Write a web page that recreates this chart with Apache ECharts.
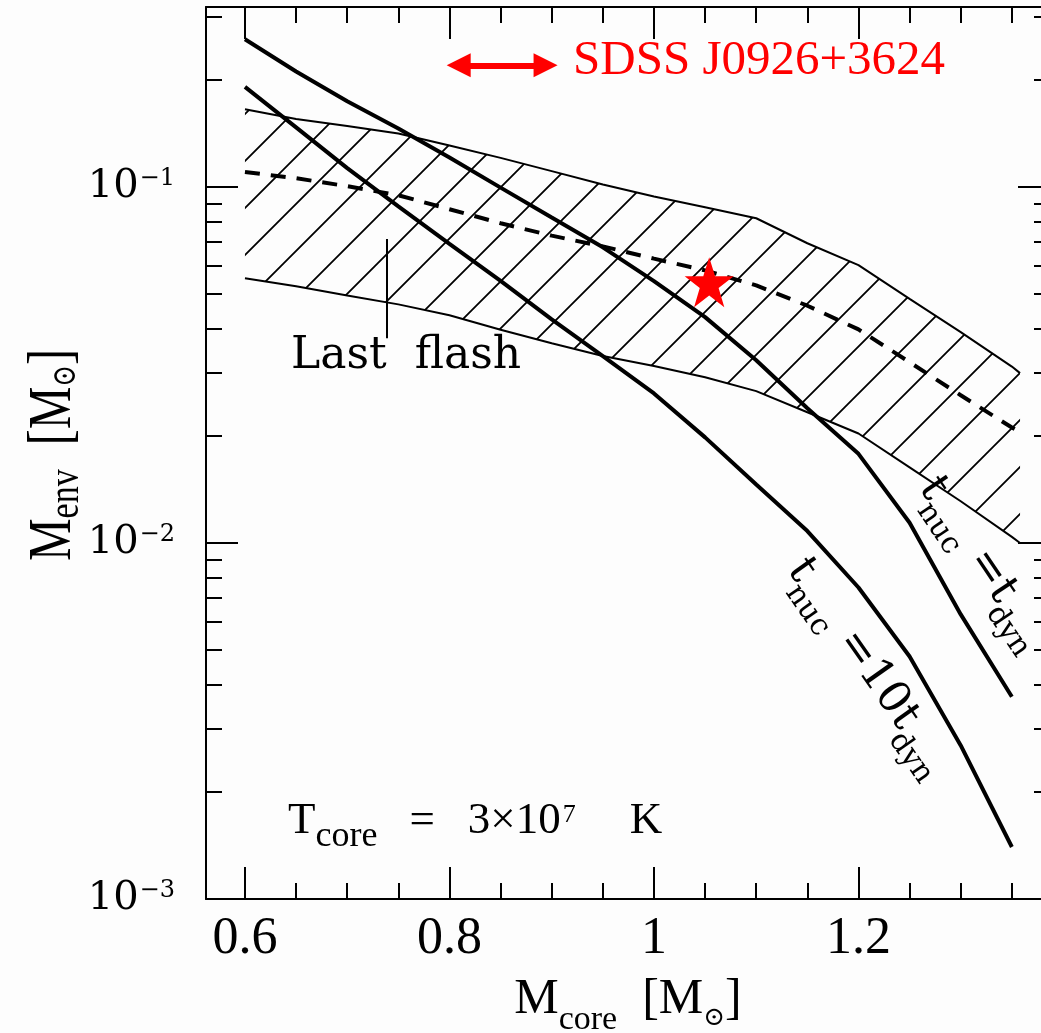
<!DOCTYPE html>
<html>
<head>
<meta charset="utf-8">
<title>Envelope mass vs core mass</title>
<script src="https://cdn.jsdelivr.net/npm/echarts@6/dist/echarts.min.js"></script>
<style>
  html, body { margin: 0; padding: 0; background: #fdfdfd; }
  #main { width: 1041px; height: 1033px; }
</style>
</head>
<body>
<div id="main"></div>
<script>
// core mass grid (Msun) for the model curves
var coreMass = [0.6, 0.65, 0.7, 0.75, 0.8, 0.85, 0.9, 0.95, 1.0, 1.05, 1.1, 1.15, 1.2, 1.25, 1.3, 1.35];
// t_nuc = t_dyn
var envDyn = [0.260, 0.211, 0.174, 0.146, 0.121, 0.0996, 0.0821, 0.0677, 0.0544, 0.0431, 0.0326, 0.0239, 0.0178, 0.0114, 0.0063, 0.0037];
// t_nuc = 10 t_dyn
var envTenDyn = [0.191, 0.147, 0.113, 0.0882, 0.0692, 0.0545, 0.0425, 0.0335, 0.0263, 0.0198, 0.0146, 0.0108, 0.0075, 0.0048, 0.0027, 0.0014];

// hatched band + dashed "last flash" line
var bandMass = [0.6, 0.65, 0.7, 0.75, 0.8, 0.85, 0.9, 0.95, 1.0, 1.05, 1.1, 1.15, 1.2, 1.25, 1.3, 1.35, 1.358];
var bandTop = [0.1653, 0.1552, 0.1484, 0.1413, 0.1308, 0.1207, 0.1108, 0.1016, 0.0940, 0.0877, 0.0817, 0.0695, 0.0603, 0.0485, 0.0391, 0.0313, 0.0300];
var bandBottom = [0.0554, 0.0526, 0.0496, 0.0468, 0.0436, 0.0397, 0.0364, 0.0335, 0.0314, 0.0292, 0.0267, 0.0233, 0.0203, 0.0163, 0.0131, 0.0104, 0.0100];
var lastFlashEnv = [0.1102, 0.1058, 0.1005, 0.0948, 0.0866, 0.0791, 0.0730, 0.0681, 0.0629, 0.0583, 0.0529, 0.0464, 0.0398, 0.0322, 0.0260, 0.0211, 0.0205];

// SDSS J0926+3624
var starPoint = [1.054, 0.054];
var arrowMass = [0.809, 0.894];
var arrowEnv = 0.2197;
// "Last flash" marker
var flashMarkMass = 0.739;
var flashMarkEnv = [0.0714, 0.0376];

// axes
var xMin = 0.5619, xMax = 1.3873;
var yMin = 0.001, yMax = 0.3203;
var xMajor = [0.6, 0.8, 1, 1.2];
var xMinor = [0.65, 0.7, 0.75, 0.85, 0.9, 0.95, 1.05, 1.1, 1.15, 1.25, 1.3, 1.35];
var yMajor = [0.001, 0.01, 0.1];
var yMinor = [0.002, 0.003, 0.004, 0.005, 0.006, 0.007, 0.008, 0.009,
              0.02, 0.03, 0.04, 0.05, 0.06, 0.07, 0.08, 0.09, 0.2, 0.3];

function pairs(xs, ys) {
  return xs.map(function (x, i) { return [x, ys[i]]; });
}

// diagonal hatch tile
function hatchTile() {
  var s = 47;
  var c = document.createElement('canvas');
  c.width = s; c.height = s;
  var ctx = c.getContext('2d');
  ctx.strokeStyle = '#000';
  ctx.lineWidth = 1.8;
  ctx.beginPath();
  ctx.moveTo(-6, 36); ctx.lineTo(36, -6);
  ctx.moveTo(24, 53); ctx.lineTo(53, 24);
  ctx.stroke();
  return c;
}
var hatch = { image: hatchTile(), repeat: 'repeat' };

var black = '#000';
var serif = '"DejaVu Serif", serif';
var times = '"Liberation Serif", "Times New Roman", serif';

function xAxisOf(pos, ticks, len, line, labels) {
  return {
    type: 'value', min: xMin, max: xMax, position: pos,
    axisLine: { show: line, onZero: false, lineStyle: { color: black, width: 2 } },
    axisTick: { show: true, inside: true, length: len, customValues: ticks, lineStyle: { color: black, width: 2 } },
    axisLabel: labels ? { show: true, customValues: ticks, margin: 14, color: black, fontFamily: times, fontSize: 52 } : { show: false },
    splitLine: { show: false }
  };
}
function yAxisOf(pos, ticks, len, line, labels) {
  return {
    type: 'log', logBase: 10, min: yMin, max: yMax, position: pos,
    axisLine: { show: line, onZero: false, lineStyle: { color: black, width: 2 } },
    axisTick: { show: true, inside: true, length: len, customValues: ticks, lineStyle: { color: black, width: 2 } },
    axisLabel: labels ? {
      show: true, customValues: ticks, margin: 31,
      formatter: function (v) {
        return '{b|10}{s|\u2212' + Math.round(-Math.log10(v)) + '}';
      },
      rich: {
        b: { fontFamily: serif, fontSize: 40, lineHeight: 48, color: black },
        s: { fontFamily: serif, fontSize: 24, color: black, padding: [0, 0, 16, 1] }
      }
    } : { show: false },
    splitLine: { show: false }
  };
}

var myChart = echarts.init(document.getElementById('main'));
var option = {
  backgroundColor: '#fdfdfd',
  animation: false,
  grid: { left: 206, right: -9, top: 7, bottom: 134, containLabel: false, outerBoundsMode: 'none' },
  xAxis: [
    xAxisOf('bottom', xMajor, 32, true, true),
    xAxisOf('bottom', xMinor, 16, false, false),
    xAxisOf('top', xMajor, 32, true, false),
    xAxisOf('top', xMinor, 16, false, false)
  ],
  yAxis: [
    yAxisOf('left', yMajor, 32, true, true),
    yAxisOf('left', yMinor, 16, false, false),
    yAxisOf('right', yMajor, 32, true, false),
    yAxisOf('right', yMinor, 16, false, false)
  ],
  series: [
    {
      // hatched region
      type: 'custom',
      silent: true,
      data: [[bandMass[0], bandTop[0]]],
      renderItem: function (params, api) {
        var pts = [];
        for (var i = 0; i < bandMass.length; i++) pts.push(api.coord([bandMass[i], bandTop[i]]));
        for (var j = bandMass.length - 1; j >= 0; j--) pts.push(api.coord([bandMass[j], bandBottom[j]]));
        return { type: 'polygon', shape: { points: pts }, style: { fill: hatch, stroke: null } };
      }
    },
    {
      type: 'line', data: pairs(bandMass, bandTop), showSymbol: false, silent: true,
      lineStyle: { color: black, width: 2 }
    },
    {
      type: 'line', data: pairs(bandMass, bandBottom), showSymbol: false, silent: true,
      lineStyle: { color: black, width: 2 }
    },
    {
      type: 'line', data: pairs(bandMass, lastFlashEnv), showSymbol: false, silent: true,
      lineStyle: { color: black, width: 4, type: [15, 11] }
    },
    {
      type: 'line', data: pairs(coreMass, envDyn), showSymbol: false, silent: true,
      lineStyle: { color: black, width: 4 }
    },
    {
      type: 'line', data: pairs(coreMass, envTenDyn), showSymbol: false, silent: true,
      lineStyle: { color: black, width: 4 }
    },
    {
      type: 'scatter',
      data: [starPoint],
      symbol: 'path://M50,0 L61.8,35.1 L98.9,35.1 L68.8,57 L80.2,92.7 L50,70.7 L19.8,92.7 L31.2,57 L1.1,35.1 L38.2,35.1 Z',
      symbolSize: [49, 50],
      itemStyle: { color: '#ff0000', opacity: 1 },
      silent: true,
      z: 5,
      markLine: {
        silent: true,
        animation: false,
        label: { show: false },
        data: [
          [
            { coord: [arrowMass[0], arrowEnv], symbol: 'triangle', symbolSize: [24, 24],
              lineStyle: { color: '#ff0000', width: 6, type: 'solid', opacity: 1 } },
            { coord: [arrowMass[1], arrowEnv], symbol: 'triangle', symbolSize: [24, 24] }
          ],
          [
            { coord: [flashMarkMass, flashMarkEnv[0]], symbol: 'none',
              lineStyle: { color: black, width: 2, type: 'solid', opacity: 1 } },
            { coord: [flashMarkMass, flashMarkEnv[1]], symbol: 'none' }
          ]
        ]
      }
    }
  ],
  graphic: [
    {
      type: 'text', x: 573, y: 61, z: 10,
      style: {
        text: '{r|SDSS J0926+3624}', fill: '#ff0000',
        align: 'left', verticalAlign: 'middle', textAlign: 'left', textVerticalAlign: 'middle',
        rich: { r: { fontFamily: times, fontSize: 49, fill: '#ff0000' } }
      }
    },
    {
      type: 'text', x: 291, y: 357, z: 10,
      style: {
        text: '{l|Last  flash}', fill: black,
        align: 'left', verticalAlign: 'middle', textAlign: 'left', textVerticalAlign: 'middle',
        rich: { l: { fontFamily: serif, fontSize: 44, fill: black } }
      }
    },
    {
      type: 'text', x: 288, y: 821, z: 10,
      style: {
        text: '{m|T}{s|core}{e|=}{n|3\u00d710}{p|7}{k|K}', fill: black,
        align: 'left', verticalAlign: 'middle', textAlign: 'left', textVerticalAlign: 'middle',
        rich: {
          m: { fontFamily: times, fontSize: 45, lineHeight: 60, fill: black },
          s: { fontFamily: times, fontSize: 36, padding: [32, 0, 0, 0], fill: black },
          e: { fontFamily: times, fontSize: 45, padding: [0, 0, 0, 32], fill: black },
          n: { fontFamily: times, fontSize: 45, padding: [0, 0, 0, 33], fill: black },
          p: { fontFamily: times, fontSize: 26, padding: [0, 0, 12, 2], fill: black },
          k: { fontFamily: times, fontSize: 45, padding: [0, 0, 0, 54], fill: black }
        }
      }
    },
    {
      type: 'text', x: 796, y: 563, rotation: -55 * Math.PI / 180, z: 10,
      style: {
        text: '{m|t}{s|nuc}{m| =10t}{s|dyn}', fill: black,
        align: 'left', verticalAlign: 'middle', textAlign: 'left', textVerticalAlign: 'middle',
        rich: {
          m: { fontFamily: serif, fontSize: 44, lineHeight: 56, fill: black },
          s: { fontFamily: serif, fontSize: 30, padding: [36, 0, 0, 0], fill: black }
        }
      }
    },
    {
      type: 'text', x: 928, y: 481, rotation: -56 * Math.PI / 180, z: 10,
      style: {
        text: '{m|t}{s|nuc}{m| =t}{s|dyn}', fill: black,
        align: 'left', verticalAlign: 'middle', textAlign: 'left', textVerticalAlign: 'middle',
        rich: {
          m: { fontFamily: serif, fontSize: 44, lineHeight: 56, fill: black },
          s: { fontFamily: serif, fontSize: 30, padding: [36, 0, 0, 0], fill: black }
        }
      }
    },
    {
      // x axis title
      type: 'text', x: 628, y: 1000, z: 10,
      style: {
        text: '{m|M}{s|core}{m|  [M}{o|\u2299}{m|]}', fill: black,
        align: 'center', verticalAlign: 'middle', textAlign: 'center', textVerticalAlign: 'middle',
        rich: {
          m: { fontFamily: times, fontSize: 50, lineHeight: 60, fill: black },
          s: { fontFamily: times, fontSize: 34, padding: [40, 0, 0, 0], fill: black },
          o: { fontFamily: serif, fontSize: 26, padding: [36, 0, 0, 0], fill: black }
        }
      }
    },
    {
      // y axis title
      type: 'text', x: 54, y: 455, rotation: Math.PI / 2, scaleY: 1.28, z: 10,
      style: {
        text: '{m|M}{s|env}{m|  [M}{o|\u2299}{m|]}', fill: black,
        align: 'center', verticalAlign: 'middle', textAlign: 'center', textVerticalAlign: 'middle',
        rich: {
          m: { fontFamily: times, fontSize: 48, lineHeight: 60, fill: black },
          s: { fontFamily: times, fontSize: 34, padding: [19, 0, 0, 0], fill: black },
          o: { fontFamily: serif, fontSize: 26, padding: [19, 0, 0, 0], fill: black }
        }
      }
    }
  ]
};
option && myChart.setOption(option);
</script>
</body>
</html>
